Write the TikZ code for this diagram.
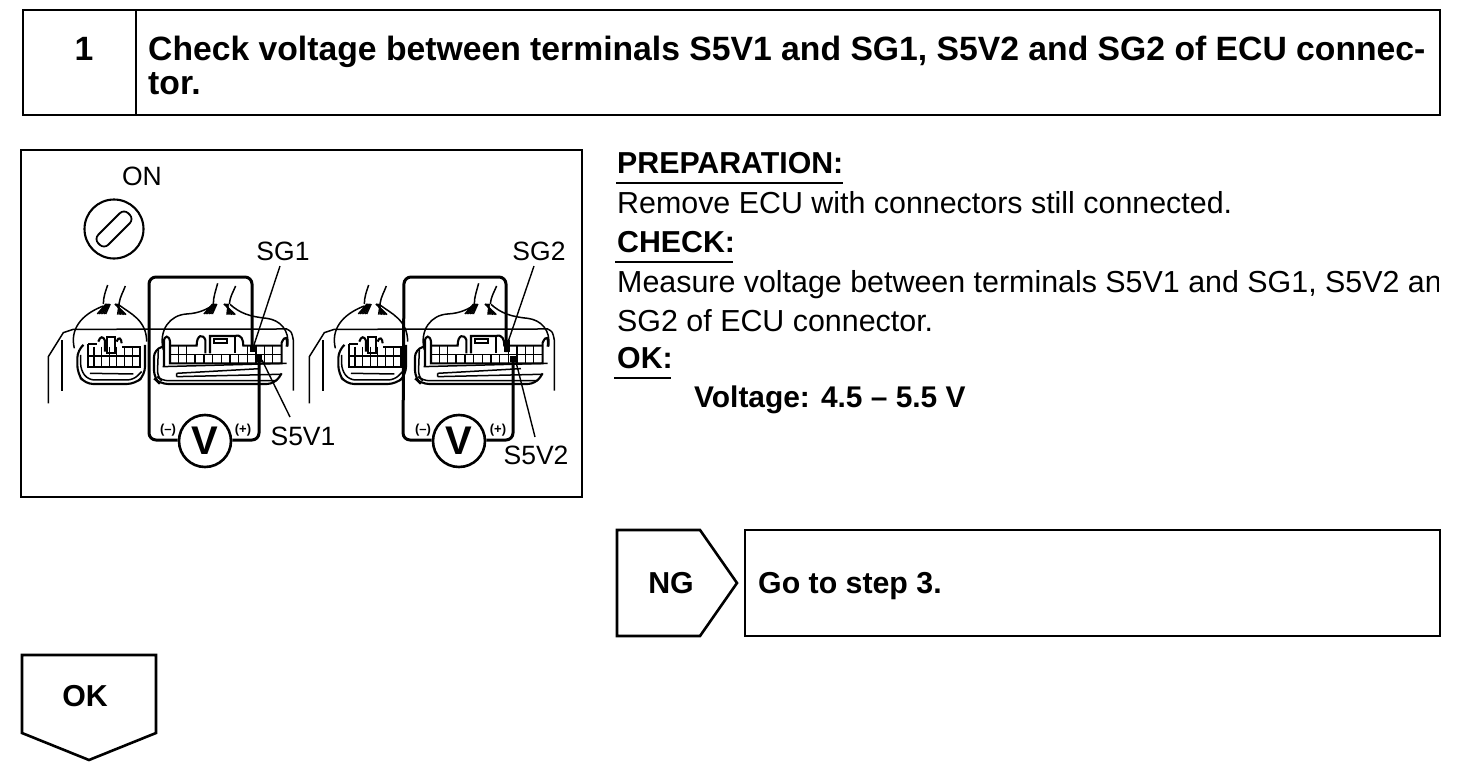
\documentclass[tikz,border=0pt]{standalone}
\usepackage{fontspec}
\setmainfont{Liberation Sans}
\newcommand{\ttlfont}{\fontsize{33.7}{38}\selectfont\bfseries}
\newcommand{\hdfont}{\fontsize{30.3}{33}\selectfont\bfseries}
\newcommand{\bdfont}{\fontsize{30.4}{33}\selectfont}
\newcommand{\lblfont}{\fontsize{26.5}{28}\selectfont}
\tikzset{
 frame/.style={draw=black,line width=2.6pt,line join=miter},
 heading/.style={inner sep=0pt,anchor=base west,font=\hdfont},
 titletext/.style={inner sep=0pt,anchor=base west,font=\ttlfont},
 body/.style={inner sep=0pt,anchor=base west,font=\bdfont},
 lbl/.style={inner sep=0pt,anchor=base,font=\lblfont},
 thin part/.style={draw=black,line width=1.5pt},
 med part/.style={draw=black,line width=2.1pt},
 probe/.style={draw=black,line width=3pt,rounded corners=7pt},
 ruleline/.style={draw=black,line width=1.6pt},
 meter/.style={circle,draw=black,line width=2.6pt,fill=white,minimum size=52pt,inner sep=0pt,font=\fontsize{40}{44}\selectfont\bfseries},
 sign/.style={inner sep=0pt,font=\fontsize{13}{14}\selectfont\bfseries},
}
\newcommand{\ecuart}{%
  % surrounding lines
  \draw[thin part] (85,760) -- (85,620) -- (130,548) -- (160,538) -- (800,537) .. controls (815,545) .. (820,570) -- (820,722);
  \draw[med part] (125,722) -- (125,570);
  % small hood + wires
  \draw[thin part] (163,595) .. controls (150,540) and (180,495) .. (250,468) (297,465) .. controls (330,490) and (380,510) .. (380,575);
  \draw[thin part] (250,462) .. controls (250,440) and (258,420) .. (263,405) (297,462) .. controls (300,440) and (310,425) .. (316,408);
  \foreach \a in {0,5,10,15,20,25}{\draw[thin part] (232+\a,492) -- (258+\a/2,462) (318-\a,494) -- (285+\a/2,462);}
  % small body
  \draw[med part,rounded corners=8pt] (190,585) -- (172,600) -- (172,670) -- (195,702) -- (345,702) -- (375,675) -- (375,585);
  \draw[thin part,rounded corners=6pt] (182,615) -- (182,660) -- (205,690) -- (340,690) -- (365,665);
  \draw[thin part] (210,670) -- (340,672);
  \draw[med part] (205,582) -- (232,582) (205,582) -- (205,650) -- (360,650) -- (360,590) -- (305,590);
  \draw[thin part] (205,618) -- (360,618);
  \foreach \x in {222,245,268,290,313,337}{\draw[thin part] (\x,590) -- (\x,650);}
  \draw[med part] (235,575) .. controls (240,558) and (250,558) .. (255,572) -- (255,605) (290,575) .. controls (295,558) and (305,565) .. (305,580);
  \draw[med part] (262,562) -- (285,562) -- (285,610) -- (262,610) -- cycle;
  % large hood + wires
  \draw[thin part] (430,600) .. controls (415,540) and (450,495) .. (500,492) .. controls (540,490) and (565,475) .. (580,465) (630,463) .. controls (660,490) and (690,500) .. (740,505) .. controls (780,510) and (810,540) .. (803,590);
  \draw[thin part] (580,462) .. controls (580,440) and (588,420) .. (593,400) (628,462) .. controls (630,440) and (640,425) .. (647,408);
  \foreach \a in {0,5,10,15,20,25}{\draw[thin part] (552+\a,492) -- (578+\a/2,462) (646-\a,494) -- (612+\a/2,462);}
  % large body
  \draw[med part,rounded corners=8pt] (430,590) -- (402,597) -- (402,685) -- (420,702) -- (765,702) -- (785,670);
  \draw[thin part,rounded corners=6pt] (415,600) -- (412,680) -- (425,692) -- (770,692);
  \draw[thin part] (428,650) -- (800,640) (470,680) -- (780,673) (470,670) -- (720,656) (470,670) -- (470,680);
  \draw[med part] (432,650) -- (432,575) .. controls (432,555) and (448,555) .. (450,575) -- (450,640) -- (785,640) -- (785,578) .. controls (795,555) and (805,560) .. (800,590);
  \draw[med part] (450,587) -- (530,587) .. controls (530,552) and (550,552) .. (556,570) -- (556,610) (570,610) -- (570,558) -- (645,558) .. controls (665,552) and (670,570) .. (670,587) -- (785,587);
  \draw[med part] (582,568) -- (622,568) -- (622,578) -- (582,578) -- cycle (645,558) -- (645,610);
  \draw[thin part] (450,613) -- (785,613);
  \foreach \x in {475,500,525,552,578,604,630,655,682,708,733,758}{\draw[thin part] (\x,613) -- (\x,640);}
  \foreach \x in {475,500,682,708,733,758}{\draw[thin part] (\x,587) -- (\x,613);}
}
\begin{document}
\begin{tikzpicture}[x=1pt,y=-1pt]
\useasboundingbox (0,0) rectangle (1472,768);
\fill[white] (0,0) rectangle (1472,768);
% header
\draw[frame] (23,10) rectangle (1440,115);
\draw[frame] (136,10) -- (136,115);
\node[inner sep=0pt,anchor=base,font=\ttlfont] (num) at (84,60) {1};
\node[titletext] (title1) at (148,60) {Check voltage between terminals S5V1 and SG1, S5V2 and SG2 of ECU connec-};
\node[titletext] (title2) at (148,94) {tor.};
% figure box
\draw[frame] (21,150) rectangle (582,497);
\node[lbl] (on) at (142,185) {ON};
\draw[line width=2.1pt] (114,229) circle (29.5pt);
\draw[line width=1.8pt,rounded corners=6pt] (94,239) -- (124,209) -- (134,219) -- (104,249) -- cycle;
\node[lbl] (sg1) at (283,260) {SG1};
\node[lbl] (s5v1) at (303,445) {S5V1};
\node[lbl] (sg2) at (539,260) {SG2};
\node[lbl] (s5v2) at (536,464) {S5V2};
\coordinate (sg1end) at (280,266);
\coordinate (sg2end) at (534,266);
\coordinate (s5v1end) at (290,417);
\coordinate (s5v2end) at (535,437);
\begin{scope}[shift={(20,150)},x=.3333pt,y=-.3333pt]\ecuart\end{scope}
\begin{scope}[shift={(281,150)},x=.3333pt,y=-.3333pt]\ecuart\end{scope}
% scene 1 probes
\node[meter] (v1) at (205,441) {V};
\draw[probe] (v1.west) ++(0,-1) -- (149,440) -- (149,277) -- (252,277) -- (252,350);
\draw[probe] (v1.east) ++(0,-1) -- (259,440) -- (259,358);
\fill (250,345) rectangle (256,352);
\fill (255,355) rectangle (262,362);
\node[sign] (m1) at (168,430) {(–)};
\node[sign] (p1) at (243,430) {(+)};
\draw[line width=1.4pt] (sg1end) -- (253,348);
\draw[line width=1.4pt] (s5v1end) -- (262,360);
% scene 2 probes
\node[meter] (v2) at (459,441) {V};
\draw[probe] (v2.west) ++(0,-1) -- (403,440) -- (404,277) -- (506,277) -- (506,352);
\draw[probe] (v2.east) ++(0,-1) -- (513,440) -- (513,358);
\fill (504,340) rectangle (510,352);
\fill (510,356) rectangle (517,362);
\node[sign] (m2) at (423,430) {(–)};
\node[sign] (p2) at (498,430) {(+)};
\draw[line width=1.4pt] (sg2end) -- (507,345);
\draw[line width=1.4pt] (s5v2end) -- (516,362);
% right text
\node[heading] (prep) at (617,173) {PREPARATION:};
\draw[ruleline] (616,183) -- (843,183);
\node[body] (rm) at (617,213) {Remove ECU with connectors still connected.};
\node[heading] (chk) at (617,252) {CHECK:};
\draw[ruleline] (615,262) -- (733,262);
\begin{scope}
\clip (610,262) rectangle (1438,342);
\node[body] (ms) at (617,292) {Measure voltage between terminals S5V1 and SG1, S5V2 and};
\node[body] (ms2) at (617,331) {SG2 of ECU connector.};
\end{scope}
\node[heading] (okh) at (617,368) {OK:};
\draw[ruleline] (614,378) -- (671,378);
\node[inner sep=0pt,anchor=base west,font=\fontsize{29.9}{33}\selectfont\bfseries] (volt) at (694,407) {Voltage: 4.5 -- 5.5 V};
% NG
\draw[frame] (617,530) -- (700,530) -- (737,583) -- (700,636) -- (617,636) -- cycle;
\node[inner sep=0pt,anchor=base,font=\hdfont] (ng) at (671,593) {NG};
\draw[frame] (745,530) rectangle (1440,636);
\node[heading] (go) at (758,593) {Go to step 3.};
% OK
\draw[frame] (22,655) -- (156,655) -- (156,733) -- (89,760) -- (22,733) -- cycle;
\node[inner sep=0pt,anchor=base,font=\hdfont] (ok) at (85,706) {OK};
\end{tikzpicture}
\end{document}
